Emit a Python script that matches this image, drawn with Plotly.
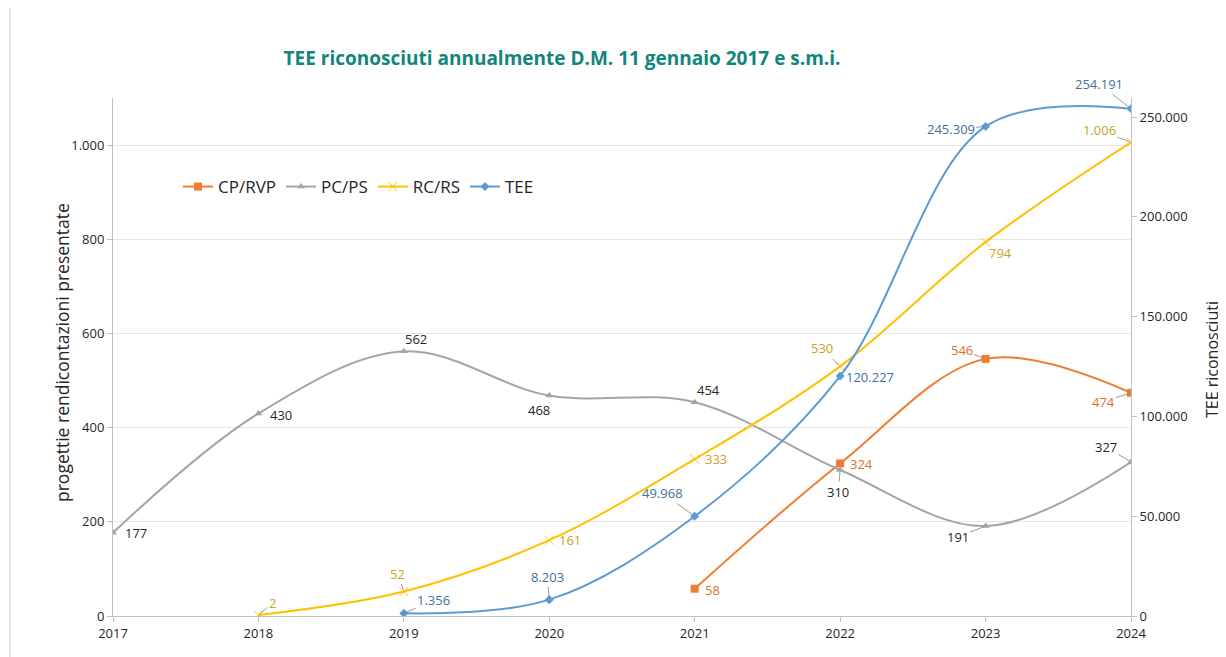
import plotly.graph_objects as go

years = [2017, 2018, 2019, 2020, 2021, 2022, 2023, 2024]
cp_years = [2021, 2022, 2023, 2024]
cp_vals = [58, 324, 546, 474]
pc_years = [2017, 2018, 2019, 2020, 2021, 2022, 2023, 2024]
pc_vals = [177, 430, 562, 468, 454, 310, 191, 327]
rc_years = [2018, 2019, 2020, 2021, 2022, 2023, 2024]
rc_vals = [2, 52, 161, 333, 530, 794, 1006]
tee_years = [2019, 2020, 2021, 2022, 2023, 2024]
tee_vals = [1356, 8203, 49968, 120227, 245309, 254191]

C_CP, C_PC, C_RC, C_TEE = "#ED7D31", "#A5A5A5", "#FFC000", "#5B9BD5"
L_CP, L_PC, L_RC, L_TEE = "#D9712E", "#262626", "#C9A227", "#41719C"

# page is rendered with an 8px body margin
W, H = 1218, 649
ML, MR, MT, MB = 105, 95, 90, 41
PW, PH = W - ML - MR, H - MT - MB

def fmt(v):
    return f"{v:,}".replace(",", ".")

FONT = "Open Sans, sans-serif"
SM = 1.0
fig = go.Figure()
fig.add_trace(go.Scatter(x=cp_years, y=cp_vals, name="CP/RVP", mode="lines+markers",
                         line=dict(color=C_CP, width=2, shape="spline", smoothing=SM),
                         marker=dict(symbol="square", size=8, color=C_CP)))
fig.add_trace(go.Scatter(x=pc_years, y=pc_vals, name="PC/PS", mode="lines+markers",
                         line=dict(color=C_PC, width=2, shape="spline", smoothing=SM),
                         marker=dict(symbol="triangle-up", size=7, color=C_PC)))
fig.add_trace(go.Scatter(x=rc_years, y=rc_vals, name="RC/RS", mode="lines+markers",
                         line=dict(color=C_RC, width=2, shape="spline", smoothing=SM),
                         marker=dict(symbol="x-thin", size=9, line=dict(color=C_RC, width=1))))
fig.add_trace(go.Scatter(x=tee_years, y=tee_vals, name="TEE", mode="lines+markers", yaxis="y2",
                         line=dict(color=C_TEE, width=2, shape="spline", smoothing=SM),
                         marker=dict(symbol="diamond", size=7, color=C_TEE)))

# label offsets (pixels, y downward) relative to each point; True = leader line
pc_off = [(23, 0, False), (23, 1, False), (12, -12, False), (-10, 14, False),
          (14, -12, False), (-2, 22, True), (-28, 11, True), (-25, -15, True)]
rc_off = [(14, -12, True), (-6, -18, True), (21, 0, False), (21, 0, False),
          (-18, -18, True), (15, 11, False), (-32, -12, True)]
cp_off = [(18, 1, False), (21, 1, False), (-24, -9, True), (-28, 9, True)]
tee_off = [(30, -13, True), (-2, -23, True), (-32, -23, True), (30, 1, False),
           (-35, 3, True), (-32, -25, True)]

ann = []
def add_labels(xs, vs, offs, color, yref="y"):
    for x, v, (dx, dy, lead) in zip(xs, vs, offs):
        base = dict(x=x, y=v, xref="x", yref=yref, text=fmt(v),
                    font=dict(size=13, color=color, family=FONT))
        if lead:
            base.update(showarrow=True, ax=dx, ay=dy, arrowhead=0, arrowwidth=0.8,
                        arrowcolor="#7F7F7F", standoff=2, startstandoff=0)
        else:
            base.update(showarrow=False, xshift=dx, yshift=-dy)
        ann.append(base)

add_labels(pc_years, pc_vals, pc_off, L_PC)
add_labels(rc_years, rc_vals, rc_off, L_RC)
add_labels(cp_years, cp_vals, cp_off, L_CP)
add_labels(tee_years, tee_vals, tee_off, L_TEE, yref="y2")

# axis titles
ann.append(dict(x=(54 - ML) / PW, y=(H - MB - 345) / PH, xref="paper", yref="paper",
                text="progettie rendicontazioni presentate", textangle=-90, showarrow=False,
                xanchor="center", yanchor="middle", font=dict(size=17.5, color="#262626", family=FONT)))
ann.append(dict(x=(1204 - ML) / PW, y=(H - MB - 352) / PH, xref="paper", yref="paper",
                text="TEE riconosciuti", textangle=-90, showarrow=False,
                xanchor="center", yanchor="middle", font=dict(size=16, color="#262626", family=FONT)))

axis_col = "#BFBFBF"
fig.update_layout(
    width=W, height=H,
    margin=dict(l=ML, r=MR, t=MT, b=MB, pad=0),
    paper_bgcolor="white", plot_bgcolor="white",
    separators=",.",
    font=dict(family=FONT, size=13, color="#262626"),
    title=dict(text="<b>TEE riconosciuti annualmente D.M. 11 gennaio 2017 e s.m.i.</b>",
               x=554 / W, xanchor="center", y=1 - 50 / H, yanchor="middle",
               font=dict(size=19, color="#12857C", family=FONT)),
    xaxis=dict(range=[2017, 2024], tickmode="array", tickvals=years,
               showgrid=False, showline=True, linecolor=axis_col, linewidth=1,
               ticks="outside", ticklen=5, tickcolor=axis_col, zeroline=False,
               tickfont=dict(size=13, color="#262626")),
    yaxis=dict(range=[0, 1100], tickmode="array", tickvals=[0, 200, 400, 600, 800, 1000],
               tickformat=",d", showgrid=True, gridcolor="#E6E6E6", showline=True,
               linecolor=axis_col, ticks="outside", ticklen=5, tickcolor=axis_col, zeroline=False),
    yaxis2=dict(range=[0, 1100 * 250000 / 1000 * (471 / 499)], overlaying="y", side="right",
                tickmode="array", tickvals=[0, 50000, 100000, 150000, 200000, 250000],
                tickformat=",d", showgrid=False, showline=True, linecolor=axis_col,
                ticks="outside", ticklen=5, tickcolor=axis_col, zeroline=False),
    legend=dict(orientation="h", x=(170 - ML) / PW, y=(H - MB - 179) / PH,
                xanchor="left", yanchor="middle", bgcolor="rgba(0,0,0,0)",
                font=dict(size=17, color="#262626", family=FONT), itemwidth=30),
    annotations=ann,
    shapes=[dict(type="line", xref="paper", yref="paper",
                 x0=(2 - ML) / PW, x1=(2 - ML) / PW,
                 y0=-MB / PH - 0.05, y1=1 + MT / PH + 0.05,
                 line=dict(color="#D0D0D0", width=1))],
)

fig.write_html("out.html")
